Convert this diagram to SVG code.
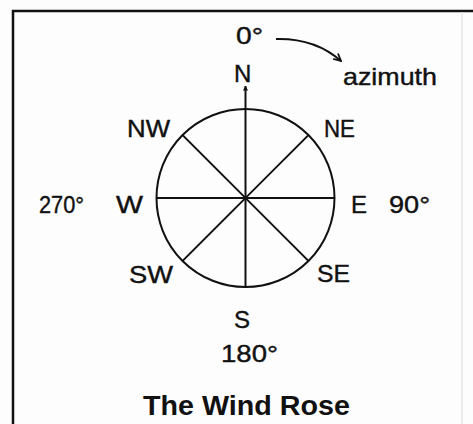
<svg xmlns="http://www.w3.org/2000/svg" width="473" height="424" viewBox="0 0 473 424">
<defs>
<style>
.t{font-family:"Liberation Sans",Arial,sans-serif;font-size:24px;fill:#111;stroke:#111;stroke-width:0.4}
.b{font-family:"Liberation Sans",Arial,sans-serif;font-size:27px;font-weight:bold;fill:#111}
.ln{stroke:#111;stroke-width:2;fill:none}
</style>
<marker id="tri" viewBox="0 0 10 10" refX="9" refY="5" markerWidth="5" markerHeight="5" orient="auto" markerUnits="userSpaceOnUse">
<path d="M0,0 L10,5 L0,10 Z" fill="#111"/>
</marker>
<marker id="vee" viewBox="0 0 10 10" refX="9" refY="5" markerWidth="9" markerHeight="9" orient="auto" markerUnits="userSpaceOnUse">
<path d="M1,1 L9,5 L1,9" fill="none" stroke="#111" stroke-width="2"/>
</marker>
</defs>
<rect x="0" y="0" width="473" height="424" fill="#fdfdfd"/>
<g id="frame">
<line x1="12" y1="11" x2="473" y2="11" stroke="#111" stroke-width="2.5"/>
<line x1="13" y1="10" x2="13" y2="424" stroke="#111" stroke-width="2.5"/>
<line x1="462" y1="12" x2="462" y2="424" stroke="#e4e4e4" stroke-width="1.5"/>
</g>
<g id="rose">
<circle cx="245.5" cy="198" r="89" class="ln"/>
</g>
<g id="connectors">
<line x1="245.5" y1="287" x2="245.5" y2="86" class="ln" marker-end="url(#tri)"/>
<line x1="156.5" y1="198" x2="334.5" y2="198" class="ln"/>
<line x1="182.6" y1="135.1" x2="308.4" y2="260.9" class="ln"/>
<line x1="308.4" y1="135.1" x2="182.6" y2="260.9" class="ln"/>
<path d="M276,39 Q315,38 341,61" class="ln" marker-end="url(#vee)"/>
</g>
<g id="labels">
<text class="t" x="236" y="44" textLength="27" lengthAdjust="spacingAndGlyphs">0°</text>
<text class="t" x="234" y="82">N</text>
<text class="t" x="343" y="85" textLength="94" lengthAdjust="spacingAndGlyphs">azimuth</text>
<text class="t" x="127" y="137" textLength="43" lengthAdjust="spacingAndGlyphs">NW</text>
<text class="t" x="324" y="137" textLength="31" lengthAdjust="spacingAndGlyphs">NE</text>
<text class="t" x="39" y="213" textLength="45" lengthAdjust="spacingAndGlyphs">270°</text>
<text class="t" x="116" y="213" textLength="27" lengthAdjust="spacingAndGlyphs">W</text>
<text class="t" x="351" y="213">E</text>
<text class="t" x="389" y="213" textLength="41" lengthAdjust="spacingAndGlyphs">90°</text>
<text class="t" x="129" y="283" textLength="44" lengthAdjust="spacingAndGlyphs">SW</text>
<text class="t" x="317" y="282" textLength="33" lengthAdjust="spacingAndGlyphs">SE</text>
<text class="t" x="234" y="328">S</text>
<text class="t" x="221" y="362" textLength="57" lengthAdjust="spacingAndGlyphs">180°</text>
<text class="b" x="143" y="415" textLength="207" lengthAdjust="spacingAndGlyphs">The Wind Rose</text>
</g>
</svg>
